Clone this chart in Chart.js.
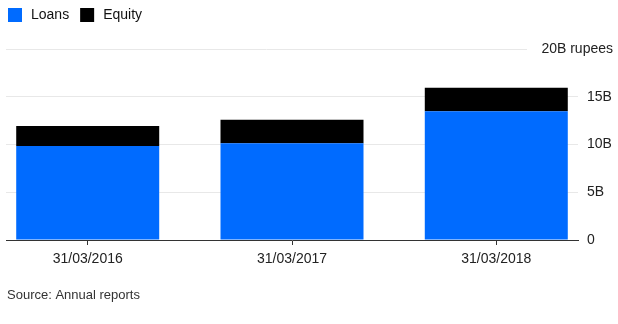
<!DOCTYPE html>
<html>
<head>
<meta charset="utf-8">
<script src="https://cdn.jsdelivr.net/npm/chart.js@4/dist/chart.umd.min.js"></script>
<style>
html,body{margin:0;padding:0;background:#fff;}
#wrap{position:relative;width:618px;height:324px;}
</style>
</head>
<body>
<div id="wrap"><canvas id="c" width="618" height="324"></canvas></div>
<script>
const categories = ['31/03/2016', '31/03/2017', '31/03/2018'];
const loans = [9.83, 10.12, 13.47];
const equity = [2.10, 2.48, 2.48];
const yTicks = [0, 5, 10, 15, 20];
const yTopLabel = '20B rupees';
const sourceText = 'Source: Annual reports';

const FONT = "'Liberation Sans', Arial, sans-serif";

const overlay = {
  id: 'overlay',
  afterDraw(chart) {
    const ctx = chart.ctx;
    const y = chart.scales.y;
    const area = chart.chartArea;
    ctx.save();
    const yt = Math.round(y.getPixelForValue(20)) + 0.5;
    ctx.strokeStyle = '#e8e8e8';
    ctx.lineWidth = 1;
    ctx.beginPath();
    ctx.moveTo(area.left, yt);
    ctx.lineTo(527, yt);
    ctx.stroke();
    ctx.fillStyle = '#222';
    ctx.font = '14px ' + FONT;
    ctx.textAlign = 'right';
    ctx.textBaseline = 'middle';
    ctx.fillText(yTopLabel, 613, yt);
    let x = 8;
    ctx.textAlign = 'left';
    chart.data.datasets.forEach(ds => {
      ctx.fillStyle = ds.backgroundColor;
      ctx.fillRect(x, 8, 14, 14);
      ctx.fillStyle = '#111';
      ctx.fillText(ds.label, x + 23, 15.5);
      x += 23 + ctx.measureText(ds.label).width + 11;
    });
    ctx.font = '13px ' + FONT;
    ctx.fillStyle = '#333';
    ctx.fillText(sourceText, 7, 295.5);
    ctx.restore();
  }
};

new Chart(document.getElementById('c'), {
  type: 'bar',
  data: {
    datasets: [
      { label: 'Loans', data: loans.map((v, i) => ({x: i, y: v})), backgroundColor: '#006bff', barPercentage: 0.7, categoryPercentage: 1 },
      { label: 'Equity', data: equity.map((v, i) => ({x: i, y: v})), backgroundColor: '#000000', barPercentage: 0.7, categoryPercentage: 1 }
    ]
  },
  options: {
    responsive: false,
    animation: false,
    devicePixelRatio: 1,
    layout: { padding: { left: 6, top: 49, right: 0, bottom: 0 } },
    plugins: { legend: { display: false }, tooltip: { enabled: false } },
    scales: {
      x: {
        type: 'linear',
        stacked: true,
        offset: false,
        min: -0.4,
        max: 2.4,
        afterBuildTicks: s => { s.ticks = categories.map((_, i) => ({ value: i })); },
        afterFit: s => { s.height = 84; },
        ticks: {
          autoSkip: false, maxRotation: 0, padding: 6,
          color: '#222', font: { size: 14, family: FONT },
          callback: v => categories[v]
        },
        grid: { offset: false, drawOnChartArea: false, drawTicks: true, tickLength: 5, color: '#333' },
        border: { display: true, color: '#333', width: 1 }
      },
      y: {
        position: 'right',
        stacked: true,
        min: 0,
        max: 20,
        afterBuildTicks: s => { s.ticks = yTicks.map(v => ({ value: v })); },
        afterFit: s => { s.width = 40; },
        ticks: {
          padding: 9, color: '#222', font: { size: 14, family: FONT },
          callback: v => v === 20 ? '' : (v === 0 ? '0' : v + 'B')
        },
        grid: {
          drawTicks: false,
          color: c => (c.tick && (c.tick.value === 20 || c.tick.value === 0)) ? 'rgba(0,0,0,0)' : '#e8e8e8'
        },
        border: { display: false }
      }
    }
  },
  plugins: [overlay]
});
</script>
</body>
</html>
